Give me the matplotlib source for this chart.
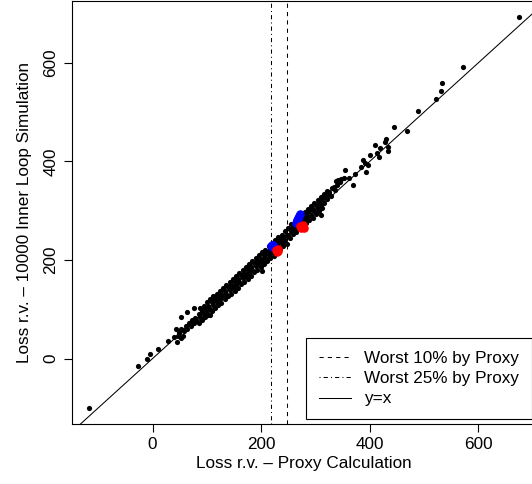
import matplotlib
matplotlib.use("Agg")
import matplotlib.pyplot as plt
from matplotlib.lines import Line2D

plt.rcParams["font.family"] = ["Liberation Sans", "DejaVu Sans"]

# dense band along y=x, four rows
band1_x = [88, 94, 100, 106, 112, 118, 124, 130, 136, 142, 148, 154, 160, 166,
           172, 178, 184, 190, 196, 202, 208, 214, 220, 226, 232, 238, 244, 250,
           256, 262, 268, 274, 280, 286, 292, 298, 304, 310, 316, 322]
band1_y = [102, 107, 114, 120, 126, 131, 138, 144, 150, 156, 161, 168, 174, 180,
           186, 191, 198, 204, 210, 216, 221, 228, 234, 240, 246, 251, 258, 266,
           274, 280, 286, 292, 298, 304, 310, 316, 322, 328, 334, 340]
band2_x = [61, 67, 73, 79, 85, 91, 97, 103, 109, 115, 121, 127, 133, 139, 145,
           151, 157, 163, 169, 175, 181, 187, 193, 199, 205, 211, 217, 223, 229,
           235, 241, 247, 253, 259, 265, 271, 277, 283, 289, 295, 301, 307, 313,
           319, 325]
band2_y = [66, 73, 78, 83, 90, 97, 102, 107, 114, 121, 126, 131, 138, 145, 150,
           155, 162, 169, 174, 179, 186, 193, 198, 203, 210, 217, 222, 227, 234,
           241, 246, 251, 263, 270, 275, 280, 287, 294, 299, 304, 311, 318, 323,
           328, 335]
band3_x = [58, 64, 70, 76, 82, 88, 94, 100, 106, 112, 118, 124, 130, 136, 142,
           148, 154, 160, 166, 172, 178, 184, 190, 196, 202, 208, 214, 220, 226,
           232, 238, 244, 250, 256, 262, 268, 274, 280, 286, 292, 298, 304, 310,
           316, 322, 328]
band3_y = [55, 60, 67, 72, 77, 84, 91, 96, 101, 108, 115, 120, 125, 132, 139,
           144, 149, 156, 163, 168, 173, 180, 187, 192, 197, 204, 211, 216, 221,
           228, 235, 240, 251, 258, 263, 268, 275, 282, 287, 292, 299, 306, 311,
           316, 323, 330]
band4_x = [85, 91, 97, 103, 109, 115, 121, 127, 133, 139, 145, 151, 157, 163,
           169, 175, 181, 187, 193, 199, 205, 211, 217, 223, 229, 235, 241, 247,
           253, 259, 265, 271, 277, 283, 289, 295, 301, 307, 313]
band4_y = [72, 79, 84, 89, 96, 103, 108, 113, 120, 127, 132, 137, 144, 151,
           156, 161, 168, 175, 180, 185, 192, 199, 204, 209, 216, 223, 228, 233,
           245, 252, 257, 262, 269, 276, 281, 286, 293, 300, 305]

# scattered points off the band
scatter_x = [-117, -26, -10, -5, 10, 29, 45, 43, 52, 63, 77, 56, 46, 52, 106, 49,
             40, 48, 53, 58, 201, 311, 326, 330, 334, 336, 340, 342, 346, 352,
             338, 348, 362, 370, 373, 354, 394, 384, 397, 391, 388, 417, 401, 413,
             434, 419, 434, 410, 428, 431, 468, 444, 490, 522, 531, 533, 572, 676]
scatter_y = [-101, -15, -1, 10, 19, 36, 34, 60, 85, 95, 103, 46, 45, 60, 89, 52,
             43, 54, 42, 57, 177, 291, 338, 346, 348, 342, 352, 362, 358, 366,
             360, 364, 367, 352, 374, 383, 378, 388, 392, 397, 403, 409, 413, 417,
             421, 427, 430, 434, 440, 445, 462, 470, 503, 527, 544, 560, 591, 694]

# highlighted points near the two proxy quantiles
blue_x = [218, 220, 222, 221, 264, 266, 268, 270, 272, 267]
blue_y = [228, 230, 231, 227, 276, 281, 286, 290, 293, 279]
red_x = [228, 231, 229, 232, 272, 276, 279, 274, 278]
red_y = [220, 218, 216, 222, 270, 268, 266, 265, 272]

q25 = 217.5
q10 = 247.5

FS = 12.3

fig = plt.figure(figsize=(5.32, 4.84), dpi=100)
ax = fig.add_axes([0.1348, 0.1238, 0.8742, 0.8744])

black_x = band1_x + band2_x + band3_x + band4_x + scatter_x
black_y = band1_y + band2_y + band3_y + band4_y + scatter_y
ax.scatter(black_x, black_y, s=14, color="black", linewidths=0, zorder=3)
ax.scatter(blue_x, blue_y, s=38, color="blue", linewidths=0, zorder=4)
ax.scatter(red_x, red_y, s=38, color="red", linewidths=0, zorder=5)

ax.axvline(q10, color="black", lw=0.75, linestyle=(0, (4, 4)), zorder=2)
ax.axvline(q25, color="black", lw=0.75, linestyle=(0, (1, 3, 4, 3)), zorder=2)
ax.axline((0, 0), slope=1, color="black", lw=0.75, zorder=2)

ax.set_xlim(-149, 708)
ax.set_ylim(-133, 726)
ax.set_xticks([0, 200, 400, 600])
ax.set_yticks([0, 200, 400, 600])
for sp in ax.spines.values():
    sp.set_linewidth(0.8)
ax.tick_params(length=5.5, width=0.8, labelsize=FS, pad=4.0)
ax.tick_params(axis="y", labelrotation=90)
for lbl in ax.get_yticklabels():
    lbl.set_va("center")

ax.set_xlabel("Loss r.v. \u2013 Proxy Calculation", fontsize=FS)
ax.xaxis.set_label_coords(0.5, -0.075)
ax.set_ylabel("Loss r.v. \u2013 10000 Inner Loop Simulation", fontsize=FS, va="center")
ax.yaxis.set_label_coords(-0.101, 0.5)

handles = [
    Line2D([], [], color="black", lw=0.75, linestyle=(0, (4, 4))),
    Line2D([], [], color="black", lw=0.75, linestyle=(0, (1, 3, 4, 3))),
    Line2D([], [], color="black", lw=0.75),
]
labels = ["Worst 10% by Proxy", "Worst 25% by Proxy", "y=x"]
leg = ax.legend(handles, labels, loc="lower right", bbox_to_anchor=(0.9893, 0.0113),
                fontsize=FS, frameon=True, fancybox=False, framealpha=1,
                edgecolor="black", handlelength=1.9, handletextpad=0.75,
                labelspacing=0.3, borderpad=0.75, borderaxespad=0)
leg.get_frame().set_linewidth(0.8)

fig.savefig("out.png", dpi=100)
